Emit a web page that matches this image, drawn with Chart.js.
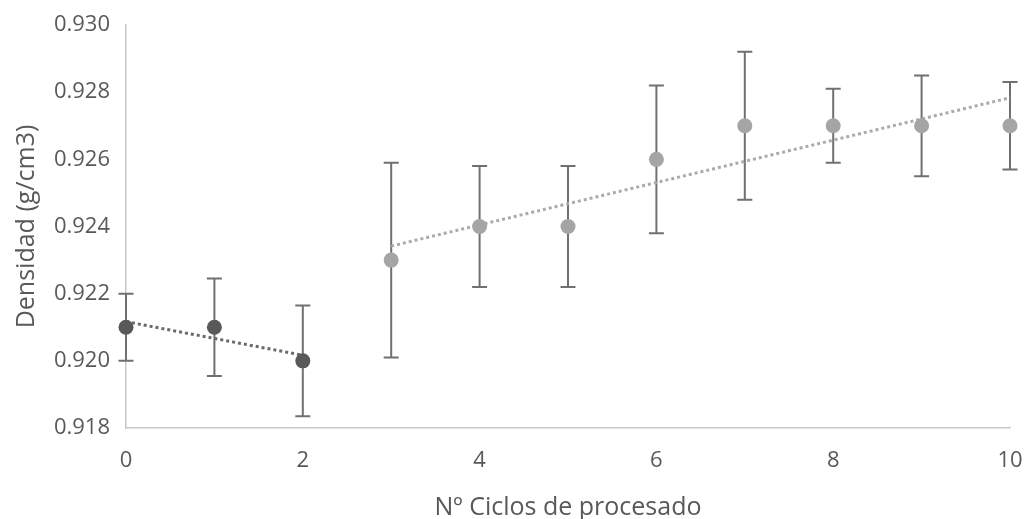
<!DOCTYPE html>
<html>
<head>
<meta charset="utf-8">
<script src="https://cdn.jsdelivr.net/npm/chart.js@4/dist/chart.umd.min.js"></script>
<style>
  html, body { margin: 0; padding: 0; background: #ffffff; }
  #wrap { width: 1026px; height: 519px; position: relative; }
</style>
</head>
<body>
<div id="wrap"><canvas id="c" width="1026" height="519"></canvas></div>
<script>
// ---- data ----
const cyclesA = [0, 1, 2];
const densityA = [0.921, 0.921, 0.920];
const errorA = [0.0010, 0.00145, 0.00165];

const cyclesB = [3, 4, 5, 6, 7, 8, 9, 10];
const densityB = [0.923, 0.924, 0.924, 0.926, 0.927, 0.927, 0.927, 0.927];
const errorB = [0.0029, 0.0018, 0.0018, 0.0022, 0.0022, 0.0011, 0.0015, 0.0013];

const xTicks = [0, 2, 4, 6, 8, 10];
const yTicks = [0.918, 0.920, 0.922, 0.924, 0.926, 0.928, 0.930];

const xTitle = 'Nº Ciclos de procesado';
const yTitle = 'Densidad (g/cm3)';

// least-squares trend line endpoints computed from the series
function trend(xs, ys) {
  const n = xs.length;
  const mx = xs.reduce((a, b) => a + b, 0) / n;
  const my = ys.reduce((a, b) => a + b, 0) / n;
  let sxy = 0, sxx = 0;
  for (let i = 0; i < n; i++) { sxy += (xs[i] - mx) * (ys[i] - my); sxx += (xs[i] - mx) ** 2; }
  const m = sxy / sxx, b = my - m * mx;
  const x0 = xs[0], x1 = xs[n - 1];
  return [{ x: x0, y: m * x0 + b }, { x: x1, y: m * x1 + b }];
}

const pts = (xs, ys) => xs.map((x, i) => ({ x: x, y: ys[i] }));

const DARK = '#595959';
const LIGHT = '#a5a5a5';
const FONT = '"Open Sans", sans-serif';
const TEXT = '#595959';

const errorBarPlugin = {
  id: 'errorBars',
  beforeDatasetsDraw(chart) {
    const ctx = chart.ctx;
    const xs = chart.scales.x, ys = chart.scales.y;
    const groups = [[cyclesA, densityA, errorA], [cyclesB, densityB, errorB]];
    ctx.save();
    ctx.strokeStyle = '#707070';
    ctx.lineWidth = 2;
    groups.forEach(([cx, cy, ce]) => {
      cx.forEach((x, i) => {
        const px = xs.getPixelForValue(x);
        const top = ys.getPixelForValue(cy[i] + ce[i]);
        const bot = ys.getPixelForValue(cy[i] - ce[i]);
        ctx.beginPath();
        ctx.moveTo(px, top); ctx.lineTo(px, bot);
        ctx.moveTo(px - 7.5, top); ctx.lineTo(px + 7.5, top);
        ctx.moveTo(px - 7.5, bot); ctx.lineTo(px + 7.5, bot);
        ctx.stroke();
      });
    });
    ctx.restore();
  }
};

new Chart(document.getElementById('c'), {
  type: 'scatter',
  data: {
    datasets: [
      {
        label: 'Serie 1',
        data: pts(cyclesA, densityA),
        backgroundColor: DARK, borderColor: DARK,
        pointRadius: 7.5, pointHoverRadius: 7.5, borderWidth: 0,
        order: 0
      },
      {
        label: 'Serie 2',
        data: pts(cyclesB, densityB),
        backgroundColor: LIGHT, borderColor: LIGHT,
        pointRadius: 7.5, pointHoverRadius: 7.5, borderWidth: 0,
        order: 0
      },
      {
        label: 'Tendencia 1',
        type: 'line',
        data: trend(cyclesA, densityA),
        borderColor: '#6a6a6a', borderWidth: 3, borderDash: [3, 3],
        pointRadius: 0, fill: false, order: 1
      },
      {
        label: 'Tendencia 2',
        type: 'line',
        data: trend(cyclesB, densityB),
        borderColor: '#ababab', borderWidth: 3, borderDash: [3, 3],
        pointRadius: 0, fill: false, order: 1
      }
    ]
  },
  options: {
    responsive: false,
    animation: false,
    layout: { padding: { top: 0, right: 0, left: 0, bottom: 0 } },
    plugins: { legend: { display: false }, tooltip: { enabled: false } },
    elements: { point: { hitRadius: 0 } },
    clip: false,
    scales: {
      x: {
        type: 'linear',
        min: 0, max: 10,
        afterBuildTicks(s) { s.ticks = xTicks.map(v => ({ value: v })); },
        afterFit(s) { s.height = 91; s.paddingLeft = 0; s.paddingRight = 16; },
        grid: { display: false, drawTicks: false },
        border: { display: true, color: '#c8c8c8', width: 1.5 },
        ticks: { color: TEXT, font: { family: FONT, size: 22 }, padding: 20 },
        title: { display: true, text: xTitle, color: TEXT, font: { family: FONT, size: 25 }, padding: { top: 11, bottom: -4 } }
      },
      y: {
        min: 0.918, max: 0.930,
        afterBuildTicks(s) { s.ticks = yTicks.map(v => ({ value: v })); },
        afterFit(s) { s.width = 126; s.paddingTop = 25; s.paddingBottom = 0; },
        grid: { display: false, drawTicks: false },
        border: { display: true, color: '#c8c8c8', width: 1.5 },
        ticks: {
          color: TEXT, font: { family: FONT, size: 22 }, padding: 16,
          callback: v => v.toFixed(3)
        },
        title: { display: true, text: yTitle, color: TEXT, font: { family: FONT, size: 25 }, padding: { top: 12, bottom: 0 } }
      }
    }
  },
  plugins: [errorBarPlugin]
});
</script>
</body>
</html>
